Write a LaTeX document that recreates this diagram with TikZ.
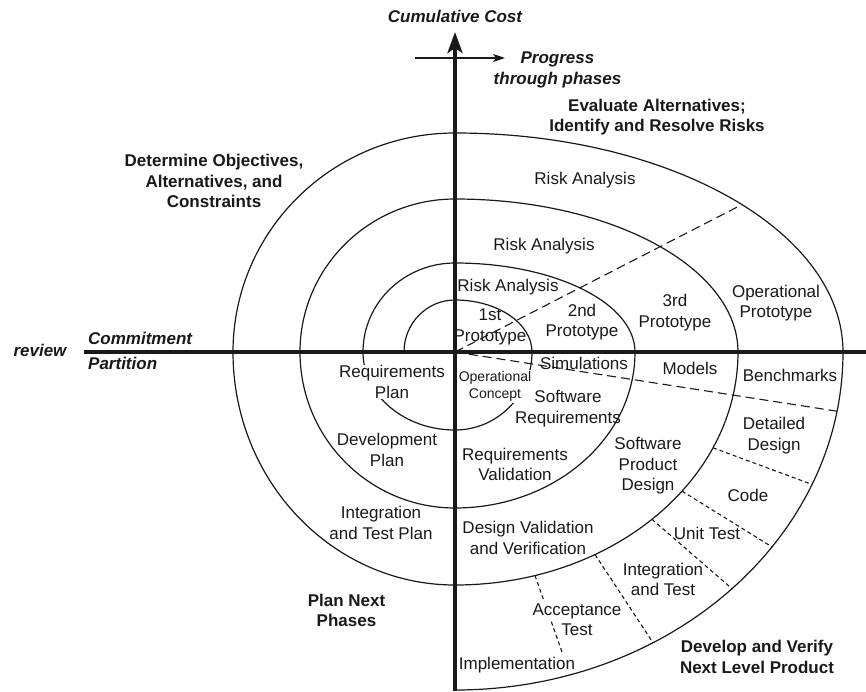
\documentclass[tikz,border=0pt]{standalone}
\usepackage{fontspec}
\setmainfont{Liberation Sans}
\usetikzlibrary{arrows.meta}
\tikzset{
  lbl/.style={font=\fontsize{17}{20.5}\selectfont, align=center, inner sep=1pt, text=black!90},
  smalllbl/.style={lbl, font=\fontsize{14}{17}\selectfont},
  blbl/.style={lbl, font=\fontsize{17}{20.5}\selectfont\bfseries},
  ilbl/.style={lbl, font=\fontsize{17}{20.5}\selectfont\bfseries\itshape},
  mask/.style={fill=white},
  spiral/.style={line width=1.2pt, black!90},
  longdash/.style={line width=1.1pt, black!90, dash pattern=on 9pt off 5pt},
  shortdash/.style={line width=1.1pt, black!90, dash pattern=on 4pt off 3pt},
  axisline/.style={line width=4pt, black!90},
}
\begin{document}
\begin{tikzpicture}[x=1pt,y=1pt]
\useasboundingbox (-455,-339) rectangle (411,352);

% spiral
\draw[spiral] (-51,0)
  arc[start angle=180,end angle=90,x radius=51,y radius=52]
  arc[start angle=90,end angle=0,x radius=77,y radius=52]
  arc[start angle=0,end angle=-90,x radius=77,y radius=78]
  arc[start angle=270,end angle=180,x radius=92,y radius=78]
  arc[start angle=180,end angle=90,x radius=92,y radius=89]
  arc[start angle=90,end angle=0,x radius=180,y radius=89]
  arc[start angle=0,end angle=-90,x radius=180,y radius=156]
  arc[start angle=270,end angle=180,x radius=155,y radius=156]
  arc[start angle=180,end angle=90,x radius=155,y radius=153]
  arc[start angle=90,end angle=0,x radius=283,y radius=153]
  arc[start angle=0,end angle=-90,x radius=283,y radius=233]
  arc[start angle=270,end angle=180,x radius=222,y radius=233]
  arc[start angle=180,end angle=90,x radius=222,y radius=219]
  arc[start angle=90,end angle=0,x radius=388,y radius=219]
  arc[start angle=0,end angle=-90,x radius=388,y radius=338];

% named points for dashed dividers
\coordinate (O) at (0,0);
\coordinate (L1) at (287,147.4);
\coordinate (L2) at (382,-59.2);
\coordinate (a1) at (258,-95.8);  \coordinate (a2) at (357,-132.4);
\coordinate (b1) at (227,-139.1); \coordinate (b2) at (317,-194.9);
\coordinate (c1) at (197,-167.3); \coordinate (c2) at (277,-236.7);
\coordinate (d1) at (140,-202.5); \coordinate (d2) at (198,-290.7);
\coordinate (e1) at (80,-223.5);  \coordinate (e2) at (107,-300);

\draw[longdash] (O) -- (L1);
\draw[longdash] (O) -- (L2);
\draw[shortdash] (a1) -- (a2);
\draw[shortdash] (b1) -- (b2);
\draw[shortdash] (c1) -- (c2);
\draw[shortdash] (d1) -- (d2);
\draw[shortdash] (e1) -- (e2);

% labels that hide lines behind them
\node[lbl,mask] (reqplan) at (-63,-30) {Requirements\\Plan};
\node[smalllbl,mask] (opcon) at (40,-34.5) {Operational\\Concept};
\node[lbl,mask] (accept) at (122,-259) {Acceptance};

% axes
\coordinate (hl) at (-371,0);
\coordinate (hr) at (411,0);
\coordinate (vb) at (0,-339);
\coordinate (vt) at (0,320);
\draw[axisline] (hl) -- (hr);
\draw[axisline,-{Stealth[length=21pt,width=15pt,inset=5pt]}] (vb) -- (vt);
\coordinate (pl) at (-40,294);
\coordinate (pr) at (50,294);
\draw[line width=1.3pt,black!90,-{Stealth[length=12pt,width=8pt,inset=3pt]}] (pl) -- (pr);

% axis labels
\node[ilbl] (cost) at (0,336) {Cumulative Cost};
\node[ilbl] (progress) at (102.5,282) {Progress\\through phases};
\node[ilbl] (review) at (-415,2) {review};
\node[ilbl,anchor=west] (commit) at (-368,14) {Commitment};
\node[ilbl,anchor=west] (partition) at (-368,-11) {Partition};

% quadrant titles
\node[blbl] (evaluate) at (202,235) {Evaluate Alternatives;\\Identify and Resolve Risks};
\node[blbl] (determine) at (-241,171) {Determine Objectives,\\Alternatives, and\\Constraints};
\node[blbl] (plannext) at (-108.5,-258.5) {Plan Next\\Phases};
\node[blbl] (develop) at (302,-305) {Develop and Verify\\Next Level Product};

% risk analysis / prototypes
\node[lbl] (ra3) at (130,172) {Risk Analysis};
\node[lbl] (ra2) at (89,106) {Risk Analysis};
\node[lbl] (ra1) at (53,65) {Risk Analysis};
\node[lbl] (p1) at (35,25) {1st\\Prototype};
\node[lbl] (p2) at (127,30) {2nd\\Prototype};
\node[lbl] (p3) at (220,39.5) {3rd\\Prototype};
\node[lbl] (p4) at (321,49) {Operational\\Prototype};

% simulations etc.
\node[lbl] (sim) at (129,-11) {Simulations};
\node[lbl] (models) at (235,-16) {Models};
\node[lbl] (bench) at (335,-23) {Benchmarks};

% development side
\node[lbl] (swreq) at (113,-56.5) {Software\\Requirements};
\node[lbl] (reqval) at (60,-112.5) {Requirements\\Validation};
\node[lbl] (spd) at (193,-114) {Software\\Product\\Design};
\node[lbl] (detail) at (319,-83.5) {Detailed\\Design};
\node[lbl] (code) at (293,-143) {Code};
\node[lbl] (unit) at (252,-181) {Unit Test};
\node[lbl] (dvv) at (73,-186) {Design Validation\\and Verification};
\node[lbl] (intt) at (208,-227.5) {Integration\\and Test};
\node[lbl] (accepttest) at (122,-278) {Test};
\node[lbl] (impl) at (62,-313) {Implementation};

% planning side
\node[lbl] (devplan) at (-68,-98) {Development\\Plan};
\node[lbl] (itplan) at (-74,-171) {Integration\\and Test Plan};
\end{tikzpicture}
\end{document}
